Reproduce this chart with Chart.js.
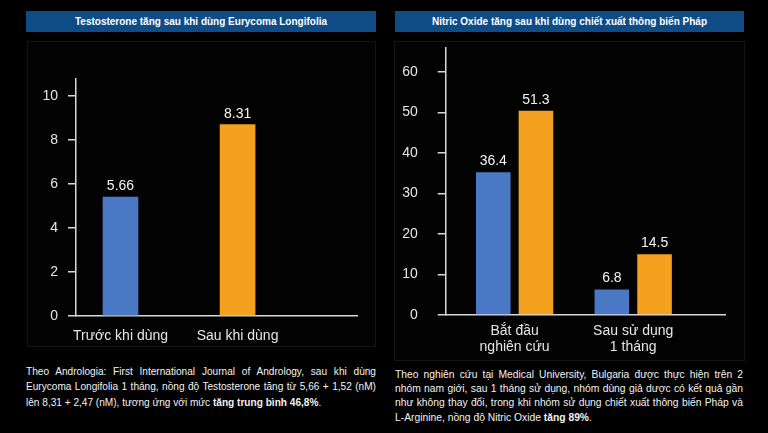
<!DOCTYPE html>
<html>
<head>
<meta charset="utf-8">
<script src="https://cdn.jsdelivr.net/npm/chart.js@4.4.1/dist/chart.umd.min.js"></script>
<style>
  html, body { margin: 0; padding: 0; background: #000; }
  body { width: 768px; height: 433px; position: relative; overflow: hidden; font-family: "Liberation Sans", Arial, sans-serif; }
  .bar { position: absolute; height: 21px; background: #0f4c86; color: #fff; font-weight: bold; font-size: 10px; line-height: 21px; text-align: center; }
  .box { position: absolute; border: 1px solid #141414; background: #030303; }
  canvas { position: absolute; }
  .note { position: absolute; color: #f2f2f2; font-size: 10.3px; text-align: justify; }
  .note b { font-weight: bold; }
</style>
</head>
<body>
<div class="bar" style="left:26px;top:11px;width:350px;">Testosterone tăng sau khi dùng Eurycoma Longifolia</div>
<div class="bar" style="left:395px;top:11px;width:349px;">Nitric Oxide tăng sau khi dùng chiết xuất thông biến Pháp</div>
<div class="box" style="left:27px;top:41px;width:347px;height:304px;"></div>
<div class="box" style="left:394px;top:41px;width:349px;height:318px;"></div>
<canvas id="leftChart" width="350" height="310" style="left:26px;top:40px;"></canvas>
<canvas id="rightChart" width="350" height="325" style="left:394px;top:40px;"></canvas>
<div class="note" style="left:26px;top:364px;width:350px;line-height:15.3px;font-size:10.1px;">Theo Andrologia: First International Journal of Andrology, sau khi dùng Eurycoma Longifolia 1 tháng, nồng độ Testosterone tăng từ 5,66 + 1,52 (nM) lên 8,31 + 2,47 (nM), tương ứng với mức <b>tăng trung bình 46,8%</b>.</div>
<div class="note" style="left:395px;top:368px;width:348px;line-height:14.2px;">Theo nghiên cứu tại Medical University, Bulgaria được thực hiện trên 2 nhóm nam giới, sau 1 tháng sử dụng, nhóm dùng giả dược có kết quả gần như không thay đổi, trong khi nhóm sử dụng chiết xuất thông biến Pháp và L-Arginine, nồng độ Nitric Oxide <b>tăng 89%</b>.</div>
<script>
// left chart
const leftCategories = ["Trước khi dùng", "Sau khi dùng"];
const leftValues = [5.4, 8.7];          // bar heights as drawn
const leftValueText = ["5.66", "8.31"]; // labels printed above bars
const leftYTicks = [0, 2, 4, 6, 8, 10];

// right chart
const rightCategories = [["Bắt đầu", "nghiên cứu"], ["Sau sử dụng", "1 tháng"]];
const rightBlue = [35.2, 6.3];
const rightOrange = [50.4, 15.0];
const rightBlueText = ["36.4", "6.8"];
const rightOrangeText = ["51.3", "14.5"];
const rightYTicks = [0, 10, 20, 30, 40, 50, 60];

const BLUE = "#4a78c4";
const ORANGE = "#f5a120";
const AXIS = "#d8d8d8";
const FONT = "'Liberation Sans', Arial, sans-serif";

// value labels above bars
const valueLabels = {
  id: "valueLabels",
  afterDatasetsDraw(chart) {
    const ctx = chart.ctx;
    ctx.save();
    ctx.fillStyle = "#f4f4f4";
    ctx.font = "14px " + FONT;
    ctx.textAlign = "center";
    ctx.textBaseline = "alphabetic";
    chart.data.datasets.forEach((ds, i) => {
      chart.getDatasetMeta(i).data.forEach((bar, j) => {
        ctx.fillText(ds.valueText[j], bar.x, bar.y - 7);
      });
    });
    ctx.restore();
  }
};

function points(vals) {
  return vals.map((v, i) => ({ x: i + 1, y: v }));
}

function yAxis(ticks, max, width, pad) {
  return {
    min: 0, max: max,
    afterBuildTicks: s => { s.ticks = ticks.map(v => ({ value: v })); },
    afterFit: s => { s.width = width; s.paddingTop = 0; s.paddingBottom = 0; },
    grid: { drawOnChartArea: false, drawTicks: true, tickLength: 8, color: AXIS, lineWidth: 1.5 },
    border: { display: true, color: AXIS, width: 1.5 },
    ticks: { color: "#e6e6e6", font: { size: 14, family: FONT }, padding: pad }
  };
}

function xAxis(cats, min, max, height, pad) {
  return {
    type: "linear", min: min, max: max, offset: false,
    afterBuildTicks: s => { s.ticks = cats.map((c, i) => ({ value: i + 1 })); },
    afterFit: s => { s.height = height; },
    grid: { display: false, drawTicks: false, offset: false },
    border: { display: true, color: AXIS, width: 1.5 },
    ticks: {
      color: "#e6e6e6", font: { size: 14, family: FONT, lineHeight: 1.15 }, padding: pad,
      maxRotation: 0, autoSkip: false,
      callback: v => cats[v - 1]
    }
  };
}

new Chart("leftChart", {
  type: "bar",
  data: {
    datasets: [{
      data: points(leftValues),
      valueText: leftValueText,
      backgroundColor: [BLUE, ORANGE],
      barThickness: 35
    }]
  },
  options: {
    responsive: false,
    animation: false,
    layout: { padding: { top: 39, right: 19, left: 0, bottom: 0 } },
    plugins: { legend: { display: false }, tooltip: { enabled: false } },
    scales: {
      x: xAxis(leftCategories, 0.62, 3.02, 34, 12),
      y: yAxis(leftYTicks, 10.77, 50, 10)
    }
  },
  plugins: [valueLabels]
});

new Chart("rightChart", {
  type: "bar",
  data: {
    datasets: [{
      data: points(rightBlue),
      valueText: rightBlueText,
      backgroundColor: BLUE
    }, {
      data: points(rightOrange),
      valueText: rightOrangeText,
      backgroundColor: ORANGE
    }]
  },
  options: {
    responsive: false,
    animation: false,
    categoryPercentage: 0.72,
    barPercentage: 0.81,
    layout: { padding: { top: 8, right: 19, left: 0, bottom: 0 } },
    plugins: { legend: { display: false }, tooltip: { enabled: false } },
    scales: {
      x: xAxis(rightCategories, 0.419, 2.774, 50, 8),
      y: yAxis(rightYTicks, 65.85, 51.7, 20)
    }
  },
  plugins: [valueLabels]
});
</script>
</body>
</html>
